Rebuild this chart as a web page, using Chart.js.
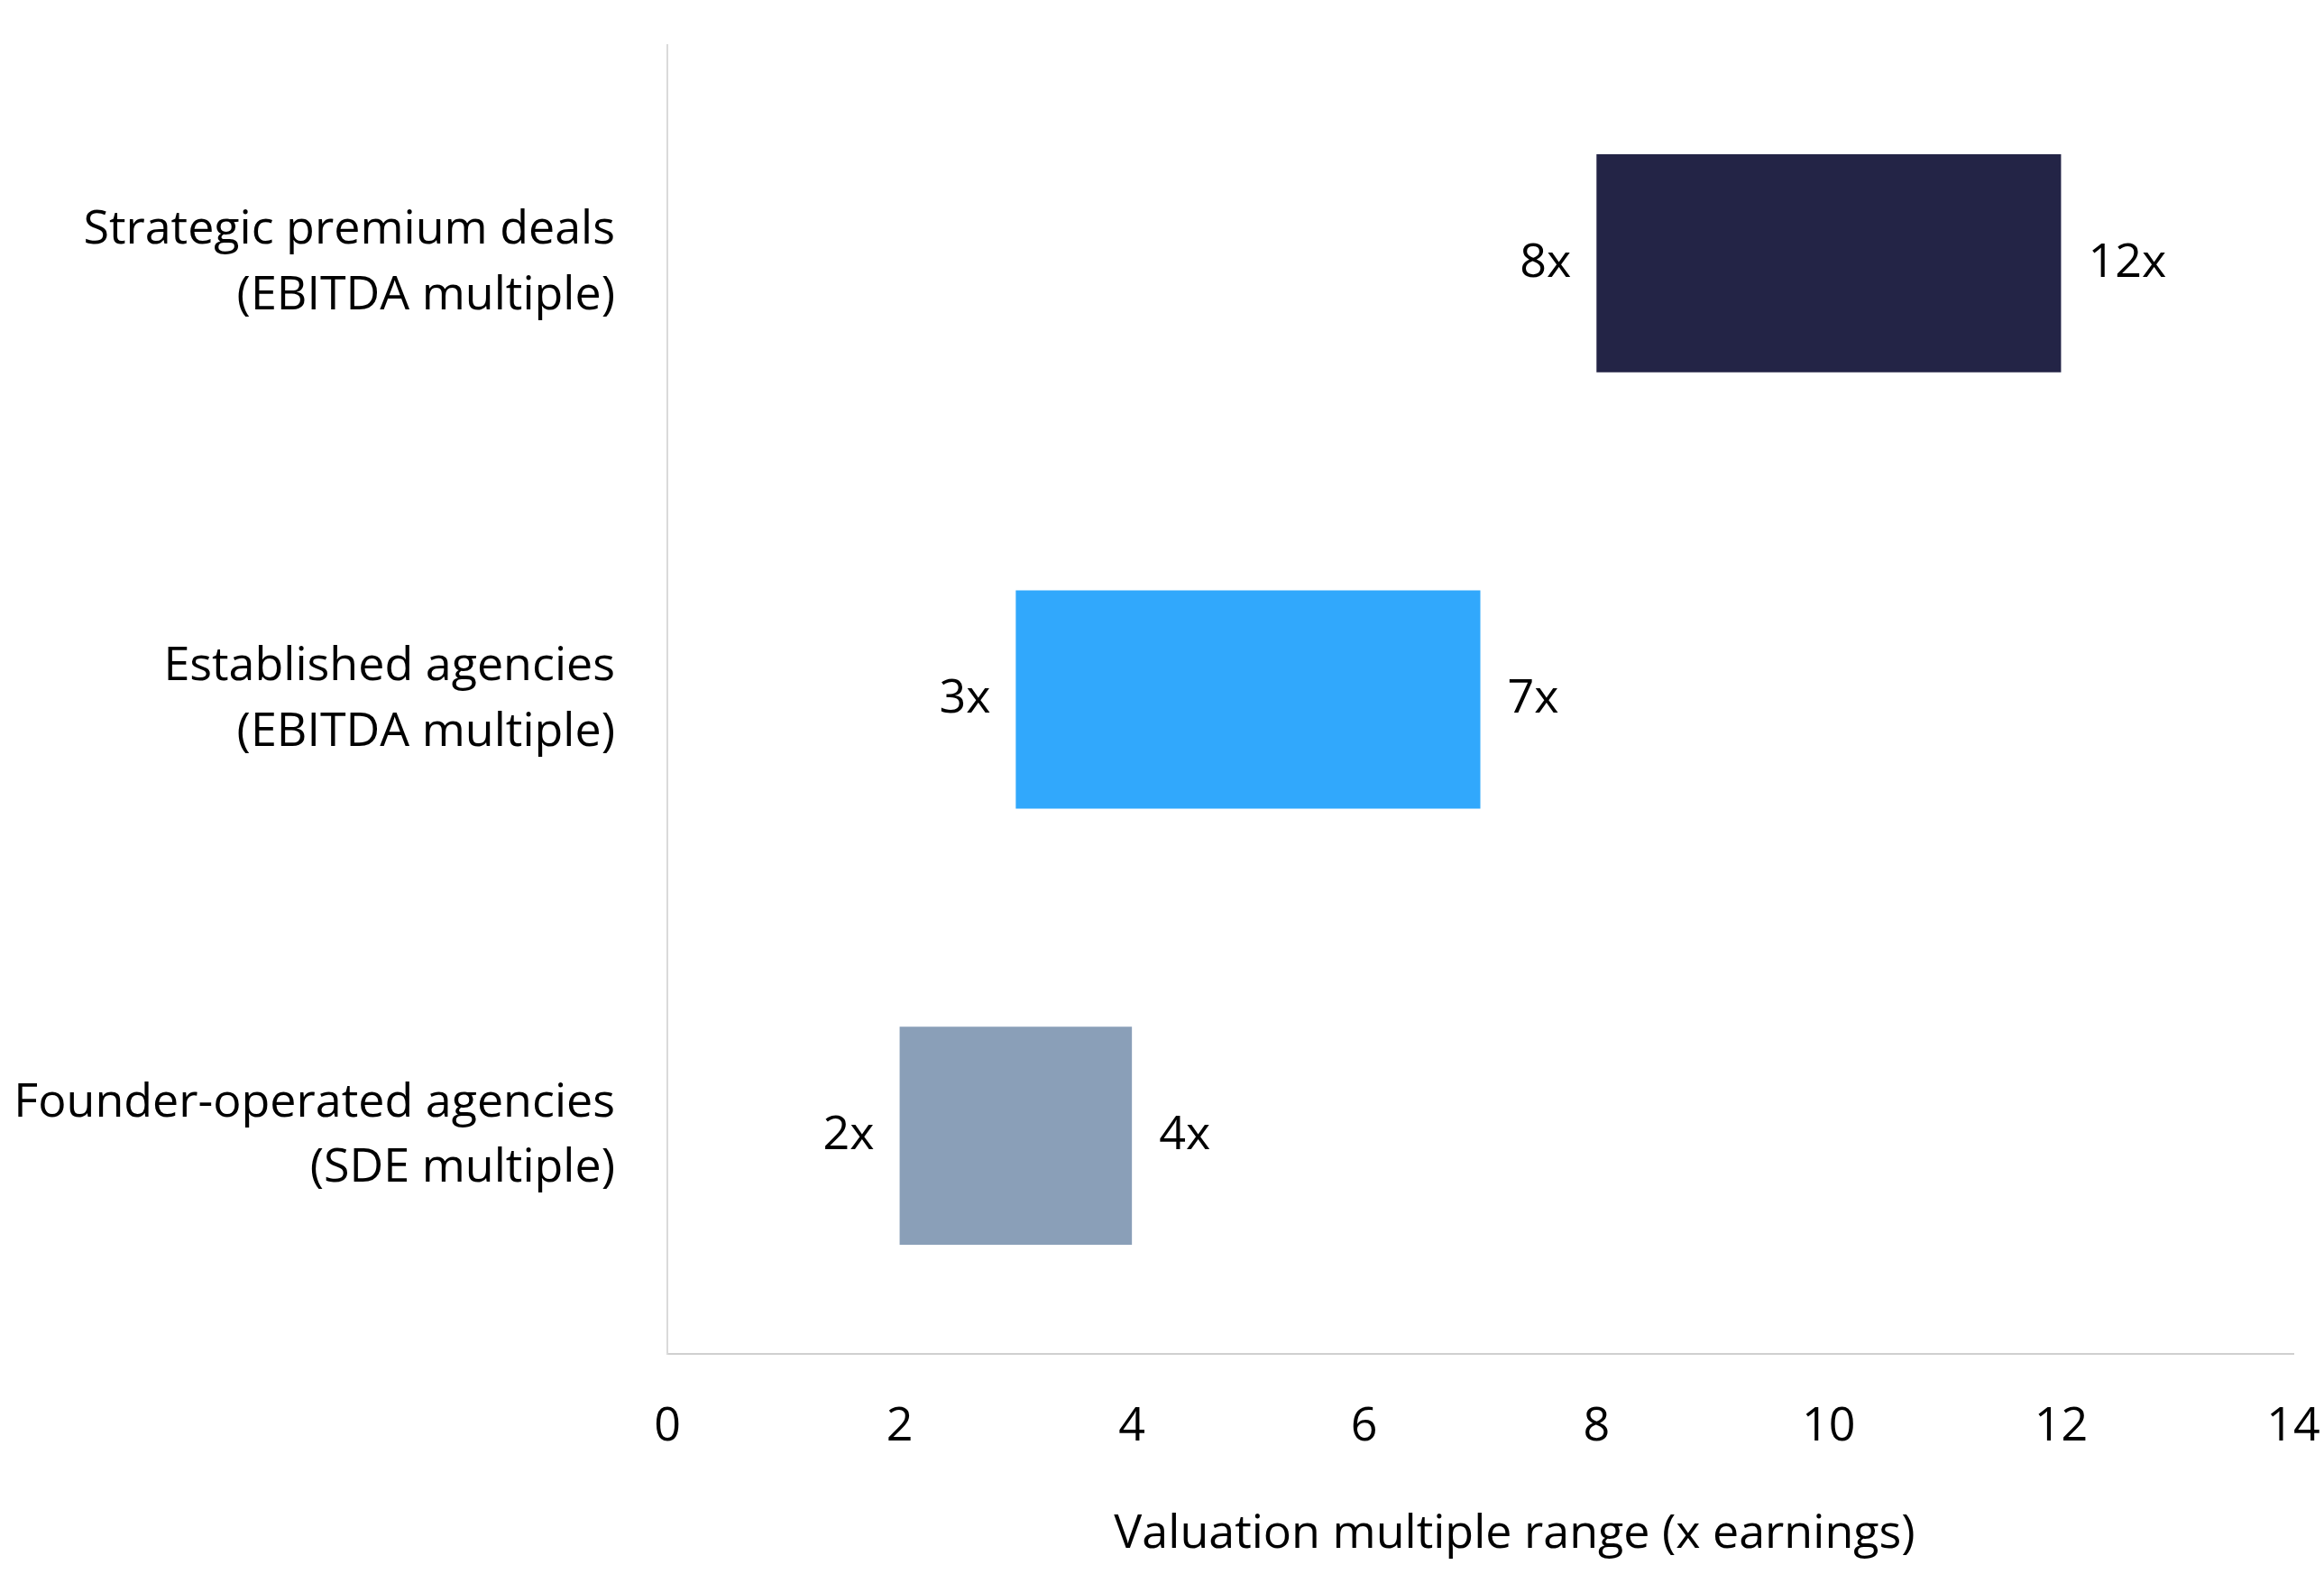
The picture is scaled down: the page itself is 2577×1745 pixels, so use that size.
<!DOCTYPE html>
<html lang="en">
<head>
    <meta charset="UTF-8" />
    <title>Valuation multiple range</title>
    <script src="https://cdn.jsdelivr.net/npm/chart.js"></script>
    <style>
        body {
            margin: 0;
            padding: 0;
            background: #fff;
        }

        #chart {
            display: block;
        }
    </style>
</head>
<body>
    <canvas id="chart" width="2577" height="1745"></canvas>

    <script>
        const categories = [
            ['Strategic premium deals', '(EBITDA multiple)'],
            ['Established agencies', '(EBITDA multiple)'],
            ['Founder-operated agencies', '(SDE multiple)']
        ];
        const lowValues = [8, 3, 2];
        const highValues = [12, 7, 4];
        const barColors = ['#232446', '#31A8FC', '#8A9FB8'];
        const xTicks = [0, 2, 4, 6, 8, 10, 12, 14];
        const xTitle = 'Valuation multiple range (x earnings)';

        const fontFamily = "'Open Sans', 'Noto Sans', sans-serif";
        const fontSize = 52;

        // labels "8x" / "12x" on both ends of each bar + axis title
        const endLabels = {
            id: 'endLabels',
            afterDatasetsDraw(chart) {
                const ctx = chart.ctx;
                const meta = chart.getDatasetMeta(0);
                ctx.save();
                ctx.font = fontSize + 'px ' + fontFamily;
                ctx.fillStyle = '#000';
                ctx.textBaseline = 'middle';
                meta.data.forEach((bar, i) => {
                    ctx.textAlign = 'right';
                    ctx.fillText(lowValues[i] + 'x', bar.base - 28, bar.y);
                    ctx.textAlign = 'left';
                    ctx.fillText(highValues[i] + 'x', bar.x + 30, bar.y);
                });
                // title sits a bit right of the plot centre, like the original
                const area = chart.chartArea;
                ctx.textAlign = 'center';
                ctx.fillText(xTitle, (area.left + area.right) / 2 + 38, area.bottom + 200);
                ctx.restore();
            }
        };

        new Chart(document.getElementById('chart').getContext('2d'), {
            type: 'bar',
            data: {
                labels: categories,
                datasets: [{
                    data: lowValues.map((v, i) => [v, highValues[i]]),
                    backgroundColor: barColors,
                    borderWidth: 0,
                    barPercentage: 0.5,
                    categoryPercentage: 1
                }]
            },
            options: {
                indexAxis: 'y',
                responsive: false,
                devicePixelRatio: 1,
                animation: false,
                layout: { padding: { top: 50, right: 34, bottom: 0, left: 0 } },
                plugins: {
                    legend: { display: false },
                    tooltip: { enabled: false }
                },
                scales: {
                    x: {
                        min: 0,
                        max: 14,
                        afterBuildTicks: (scale) => {
                            scale.ticks = xTicks.map(v => ({ value: v }));
                        },
                        afterFit: (scale) => {
                            scale.height = 244;
                            scale.paddingLeft = 0;
                            scale.paddingRight = 0;
                        },
                        grid: { color: 'rgba(0,0,0,0)', drawTicks: false },
                        border: { display: true, color: '#d0d0d0', width: 2 },
                        ticks: {
                            color: '#000',
                            padding: 50,
                            maxRotation: 0,
                            font: { family: fontFamily, size: fontSize }
                        }
                    },
                    y: {
                        afterFit: (scale) => {
                            scale.width = 740;
                            scale.paddingTop = 0;
                            scale.paddingBottom = 0;
                        },
                        grid: { color: 'rgba(0,0,0,0)', drawTicks: false },
                        border: { display: true, color: '#dadada', width: 2 },
                        ticks: {
                            color: '#000',
                            padding: 58,
                            font: { family: fontFamily, size: fontSize, lineHeight: 1.4 }
                        }
                    }
                }
            },
            plugins: [endLabels]
        });
    </script>
</body>
</html>
